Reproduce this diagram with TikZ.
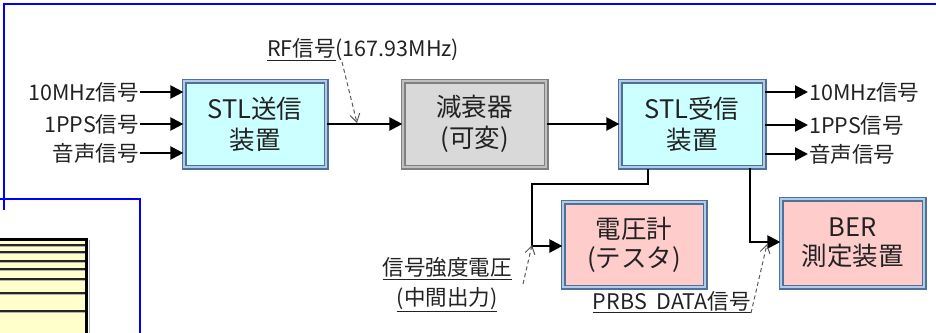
\documentclass[tikz,border=0pt]{standalone}
\usepackage{fontspec}
\newfontfamily\jpf{Noto Sans CJK JP}
\usetikzlibrary{arrows.meta}
\definecolor{frameblue}{RGB}{79,113,153}
\definecolor{framelight}{RGB}{176,204,232}
\definecolor{framegray}{RGB}{128,128,128}
\definecolor{framegraylight}{RGB}{192,192,192}
\definecolor{stlfill}{RGB}{204,255,255}
\definecolor{attfill}{RGB}{217,217,217}
\definecolor{pinkfill}{RGB}{255,204,204}
\definecolor{txt}{RGB}{34,34,34}
\definecolor{callout}{RGB}{90,90,90}
\definecolor{bframe}{RGB}{0,0,255}
\definecolor{yellowfill}{RGB}{255,255,204}
\begin{document}
\begin{tikzpicture}[x=1pt,y=-1pt,
  box/.style={draw=frameblue, double=framelight, line width=1.2pt, double distance=2.6pt,
    align=center, font=\jpf\fontsize{25.5}{31}\selectfont, text=txt, inner sep=0pt},
  graybox/.style={box, draw=framegray, double=framegraylight},
  lbl/.style={font=\jpf\fontsize{21.5}{29}\selectfont, text=txt, inner sep=1pt, align=center},
  arr/.style={line width=2.2pt, -{Triangle[length=13pt,width=13pt]}},
  wire/.style={line width=2.2pt},
  note/.style={draw=callout, dashed, line width=1pt, dash pattern=on 4pt off 3pt, -{Straight Barb[length=8pt,width=10pt,line width=1pt]}}]
\useasboundingbox (0,0) rectangle (936,332);
% blue frame lines
\draw[bframe, line width=2pt] (4,210) -- (4,4) -- (940,4);
\draw[bframe, line width=1.6pt] (-2,199) -- (140,199) -- (140,336);
% yellow table fragment
\fill[yellowfill] (-2,239) rectangle (86,336);
\foreach \yy in {245,252,261,269,279,293,311}{
  \draw[gray!60, line width=1pt] (-2,\yy+1.2) -- (86,\yy+1.2);
  \draw[black!85, line width=1.4pt] (-2,\yy) -- (86,\yy);
}
\draw[gray!60, line width=1pt] (89,240) -- (89,336);
\draw[black, line width=3pt] (-2,239.5) -- (86,239.5) -- (86,336);
% boxes
\node[box, fill=stlfill, minimum width=142pt, minimum height=86pt] (tx) at (255,124) {STL送信\\装置};
\node[graybox, fill=attfill, minimum width=143pt, minimum height=86pt] (att) at (474.5,124) {減衰器\\(可変)};
\node[box, fill=stlfill, minimum width=144pt, minimum height=86pt] (rx) at (692,124) {STL受信\\装置};
\node[box, fill=pinkfill, minimum width=142pt, minimum height=85pt, font=\jpf\fontsize{25.5}{29}\selectfont] (volt) at (634,244.5) {電圧計\\(テスタ)};
\node[box, fill=pinkfill, minimum width=143pt, minimum height=88pt, font=\jpf\fontsize{25.5}{29}\selectfont] (ber) at (852.5,243) {BER\\測定装置};
% inputs
\node[lbl, anchor=east] (in1) at (140,92) {10MHz信号};
\node[lbl, anchor=east] (in2) at (140,124) {1PPS信号};
\node[lbl, anchor=east] (in3) at (140,153) {音声信号};
\draw[arr] (in1.east) -- (in1.east -| tx.west);
\draw[arr] (in2.east) -- (in2.east -| tx.west);
\draw[arr] (in3.east) -- (in3.east -| tx.west);
% outputs
\node[lbl, anchor=west] (out1) at (808,92) {10MHz信号};
\node[lbl, anchor=west] (out2) at (808,125) {1PPS信号};
\node[lbl, anchor=west] (out3) at (808,154) {音声信号};
\draw[arr] (out1.west -| rx.east) -- (out1.west);
\draw[arr] (out2.west -| rx.east) -- (out2.west);
\draw[arr] (out3.west -| rx.east) -- (out3.west);
% main chain
\draw[arr] (tx.east) -- (att.west);
\draw[arr] (att.east) -- (rx.west);
% branches
\coordinate (ja) at (648,169);
\coordinate (jv) at (532,246);
\coordinate (jb) at (750,242);
\draw[wire] (ja) |- (532,184) -- (jv);
\draw[arr] (jv) -- (jv -| volt.west);
\draw[arr] (jb |- rx.south) -- (jb) -- (jb -| ber.west);
% callouts
\node[lbl, anchor=west] (rf) at (266,50) {\underline{RF信号}(167.93MHz)};
\coordinate (rfa) at (342,62);
\coordinate (rfb) at (357,123);
\draw[note] (rfa) -- (rfb);
\node[lbl, font=\jpf\fontsize{21.5}{30}\selectfont] (sig) at (447,285) {\underline{信号強度電圧}\\\underline{(中間出力)}};
\coordinate (sa) at (523,284);
\draw[note] (sa) -- ([yshift=1pt]jv);
\node[lbl, anchor=east] (prbs) at (752,302) {\underline{PRBS\ \ DATA信号}};
\coordinate (pa) at (751,313);
\coordinate (pb) at (767,244);
\draw[note] (pa) -- (pb);
\end{tikzpicture}
\end{document}
